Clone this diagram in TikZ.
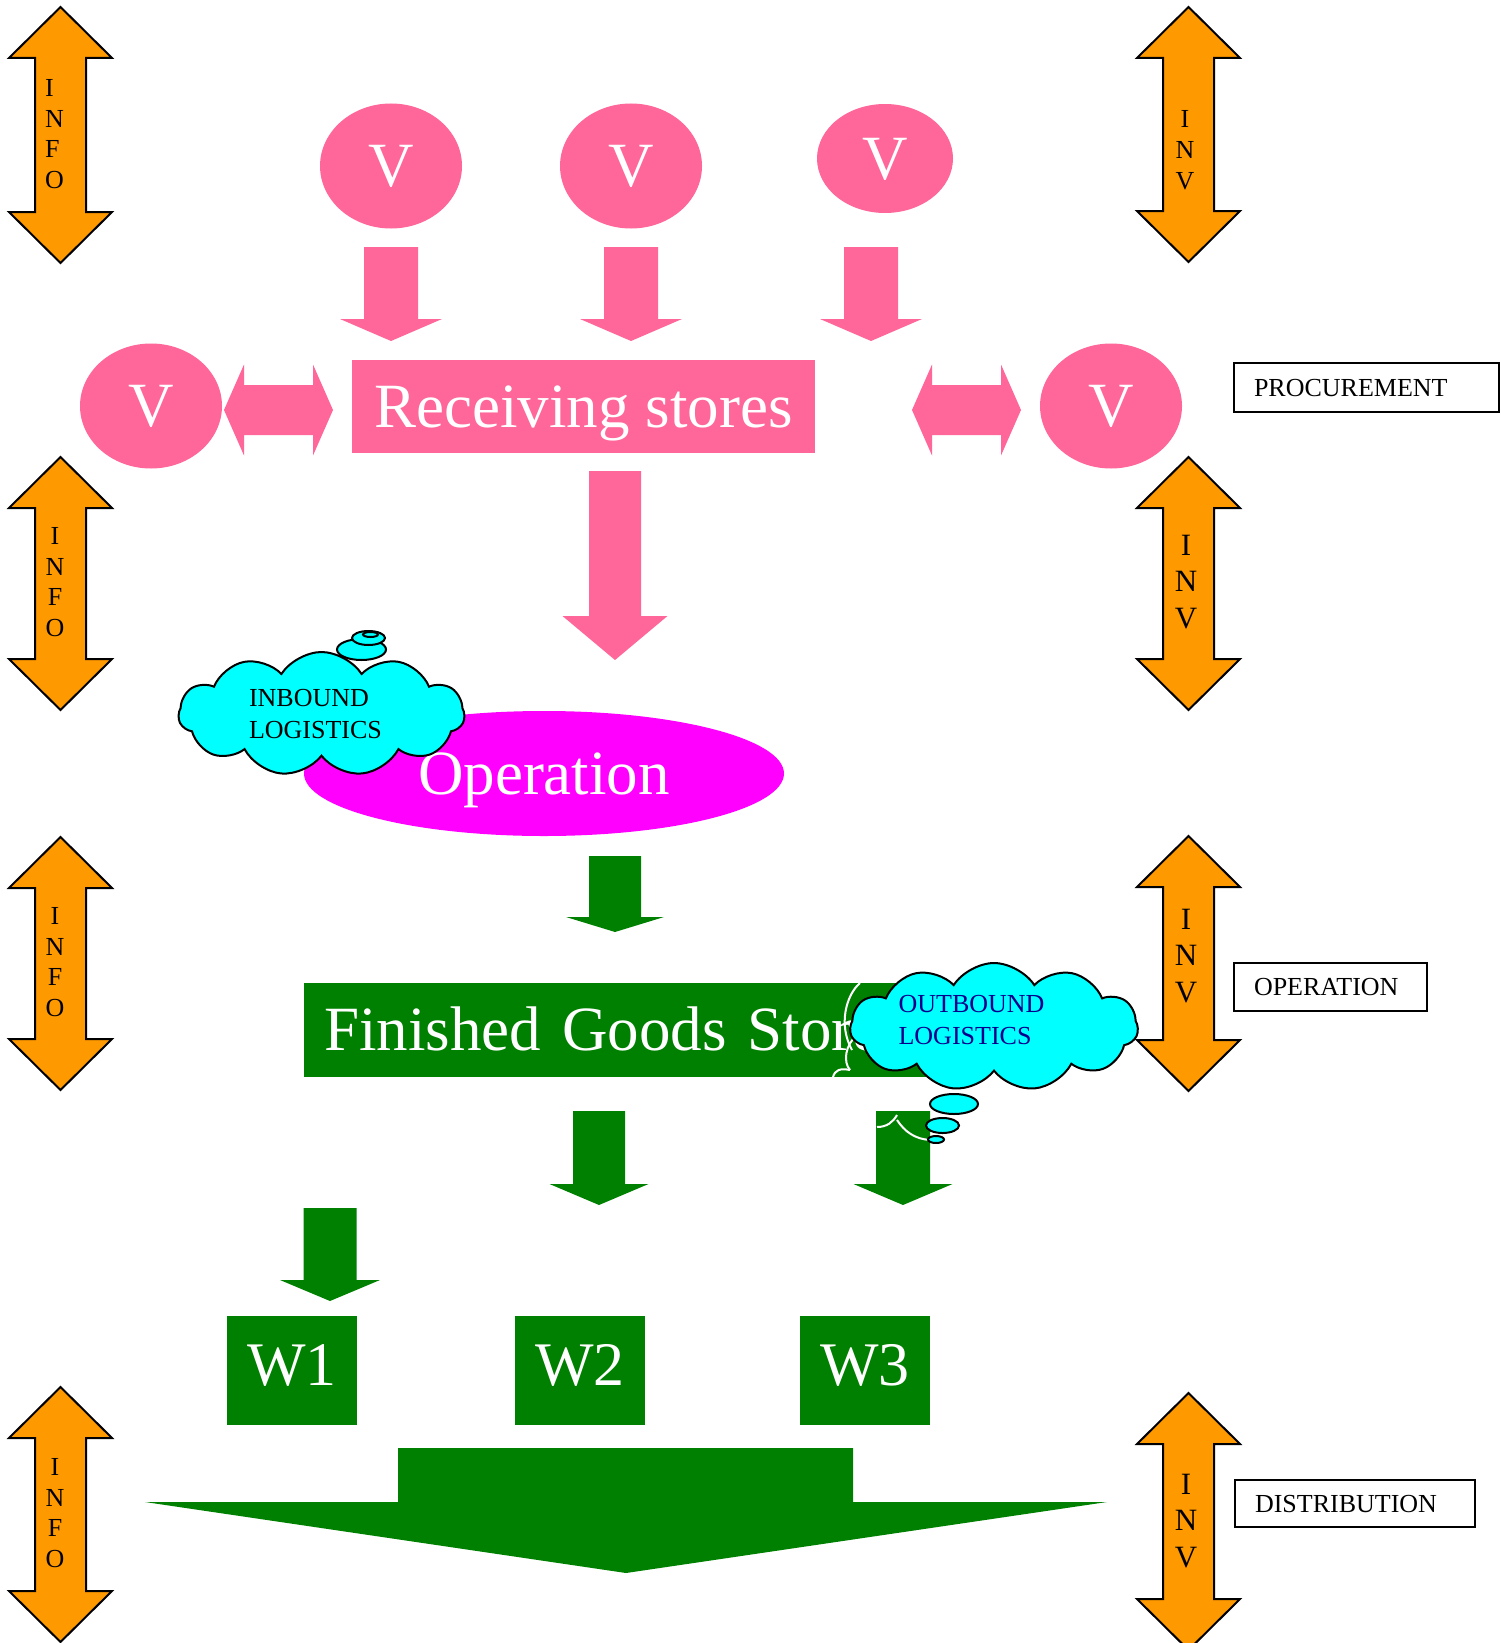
\documentclass[tikz,border=0pt]{standalone}
\usepackage{fontspec}
\setmainfont{Liberation Serif}
\usetikzlibrary{shapes.geometric,shapes.symbols}
\definecolor{pinkc}{RGB}{255,102,153}
\definecolor{orangec}{RGB}{255,153,0}
\definecolor{greenc}{RGB}{0,128,0}
\definecolor{magc}{RGB}{255,0,255}
\definecolor{cyanc}{RGB}{0,255,255}
\definecolor{navyc}{RGB}{0,0,140}

% vertical orange double arrow: cx, ytop, ybot
\newcommand\myVDouble[3]{%
  \filldraw[orangearrow] (#1,#2) -- (#1+51.5,#2+51) -- (#1+25.5,#2+51) -- (#1+25.5,#3-51) -- (#1+51.5,#3-51) -- (#1,#3) -- (#1-51.5,#3-51) -- (#1-25.5,#3-51) -- (#1-25.5,#2+51) -- (#1-51.5,#2+51) -- cycle;}
% horizontal pink double arrow: x1, x2, cy
\newcommand\myHDouble[3]{%
  \fill[pinkc] (#1,#3) -- (#1+20,#3-45.5) -- (#1+20,#3-25) -- (#2-20,#3-25) -- (#2-20,#3-45.5) -- (#2,#3) -- (#2-20,#3+45.5) -- (#2-20,#3+25) -- (#1+20,#3+25) -- (#1+20,#3+45.5) -- cycle;}
% block down arrow: colour, cx, top, shaft half, head base, head half, tip
\newcommand\myDown[7]{%
  \fill[#1] (#2-#4,#3) -- (#2+#4,#3) -- (#2+#4,#5) -- (#2+#6,#5) -- (#2,#7) -- (#2-#6,#5) -- (#2-#4,#5) -- cycle;}

\begin{document}
\begin{tikzpicture}[x=1pt,y=-1pt,
  orangearrow/.style={fill=orangec, draw=black, line width=2pt, line join=miter},
  big/.style={font=\fontsize{63}{63}\selectfont, text=white, text height=41.7pt, text depth=0pt},
  vnode/.style={ellipse, fill=pinkc, big, inner sep=0pt},
  lettersA/.style={font=\fontsize{26}{30.7}\selectfont, align=center, inner sep=0pt, text=black},
  lettersB/.style={font=\fontsize{31}{36.5}\selectfont, align=center, inner sep=0pt, text=black},
  labelbox/.style={draw=black, line width=2pt, font=\fontsize{26}{30}\selectfont, align=left, inner xsep=20pt, inner ysep=0pt, anchor=west, text height=17.2pt, text depth=0pt},
  wbox/.style={rectangle, fill=greenc, font=\fontsize{62}{62}\selectfont, text=white, text height=41pt, text depth=11pt, minimum width=130pt, minimum height=109pt, inner sep=0pt},
  cloudbox/.style={cloud, cloud puffs=11, cloud puff arc=115, draw=black, line width=2pt, fill=cyanc, inner sep=0pt},
  bubble/.style={fill=cyanc, draw=black, line width=2pt},
  cloudtext/.style={font=\fontsize{26}{32}\selectfont, align=left, inner sep=0pt},
  whitearc/.style={draw=white, line width=2pt}
]
\useasboundingbox (0,0) rectangle (1500,1643);

% ---------- orange INFO / INV arrows ----------
\myVDouble{60.5}{7}{263}
\myVDouble{60.5}{457}{710}
\myVDouble{60.5}{837}{1090}
\myVDouble{60.5}{1387}{1642}
\myVDouble{1188.5}{7}{262}
\myVDouble{1188.5}{457}{710}
\myVDouble{1188.5}{836}{1091}
\myVDouble{1188.5}{1393}{1650}

\node[lettersA, align=left, anchor=west] (info1) at (45,134) {I\\N\\F\\O};
\node[lettersA] (info2) at (55,582) {I\\N\\F\\O};
\node[lettersA] (info3) at (55,962) {I\\N\\F\\O};
\node[lettersA] (info4) at (55,1513) {I\\N\\F\\O};
\node[lettersA] (inv1) at (1185,150) {I\\N\\V};
\node[lettersB] (inv2) at (1186,582) {I\\N\\V};
\node[lettersB] (inv3) at (1186,956) {I\\N\\V};
\node[lettersB] (inv4) at (1186,1521) {I\\N\\V};

% ---------- section labels ----------
\node[labelbox, text width=225pt, minimum height=49pt] (proc) at (1233,387.5) {PROCUREMENT};
\node[labelbox, text width=153pt, minimum height=48pt] (oper) at (1233,987) {OPERATION};
\node[labelbox, text width=200pt, minimum height=47pt] (dist) at (1234,1503.5) {DISTRIBUTION};

% ---------- procurement ----------
\node[vnode, minimum width=142pt, minimum height=125pt] (v1) at (391,166) {V};
\node[vnode, minimum width=142pt, minimum height=125pt] (v2) at (631,166) {V};
\node[vnode, minimum width=136pt, minimum height=109pt] (v3) at (885,158.5) {V};
\node[vnode, minimum width=142pt, minimum height=125pt] (v4) at (151,406) {V};
\node[vnode, minimum width=142pt, minimum height=125pt] (v5) at (1111,406) {V};

\myDown{pinkc}{391}{247}{27}{319}{51}{341}
\myDown{pinkc}{631}{247}{27}{319}{51}{341}
\myDown{pinkc}{871}{247}{27}{319}{51}{341}

\node[rectangle, fill=pinkc, big, minimum width=463pt, minimum height=93pt, inner sep=0pt] (recv) at (583.5,406.5) {Receiving stores};

\myHDouble{224}{333}{410}
\myHDouble{912}{1021}{410}

\myDown{pinkc}{615}{471}{26}{616}{52.5}{660}

% ---------- operation ----------
\node[ellipse, fill=magc, big, minimum width=480pt, minimum height=125pt, inner sep=0pt] (op) at (544,773.5) {Operation};

\myDown{greenc}{615}{856}{26}{917}{49}{932}

\node[rectangle, fill=greenc, big, minimum width=626pt, minimum height=94pt, inner xsep=20pt, inner ysep=0pt, text width=586pt, align=left] (fgs) at (617,1030) {Finished Goods Store};

\myDown{greenc}{599}{1111}{26}{1184}{49.5}{1205}
\myDown{greenc}{903}{1111}{27}{1184}{49.5}{1205}
\myDown{greenc}{330}{1208}{26.5}{1280}{50}{1301}

% ---------- distribution ----------
\node[wbox] (w1) at (292,1370.5) {W1};
\node[wbox] (w2) at (580,1370.5) {W2};
\node[wbox] (w3) at (865,1370.5) {W3};

\fill[greenc] (398,1448) -- (853,1448) -- (853,1502) -- (1107,1502) -- (626,1573) -- (145,1502) -- (398,1502) -- cycle;

% white artefact arcs
\draw[whitearc] (860,983) .. controls (846,995) and (838,1025) .. (852,1050);
\draw[whitearc] (857,1035) .. controls (845,1045) and (843,1062) .. (850,1070);
\draw[whitearc] (833,1077) .. controls (835,1070) and (840,1068) .. (850,1070);
\draw[whitearc] (877,1127) .. controls (887,1127) and (893,1122) .. (897,1115);
\draw[whitearc] (897,1120) .. controls (905,1132) and (915,1139) .. (930,1140);

% ---------- clouds ----------
\node[cloudbox, minimum width=286pt, minimum height=124pt] (inbcloud) at (321.5,714) {};
\filldraw[bubble] (361.5,649.5) ellipse [x radius=24.5, y radius=10.5];
\filldraw[bubble] (368.5,638) ellipse [x radius=16.5, y radius=7];
\filldraw[bubble] (370.5,634.5) ellipse [x radius=7.5, y radius=2.5];
\node[cloudtext] (inbtext) at (315.5,714.5) {INBOUND\\LOGISTICS};

\node[cloudbox, minimum width=288pt, minimum height=128pt] (outcloud) at (994,1027) {};
\filldraw[bubble] (954,1104) ellipse [x radius=24, y radius=10];
\filldraw[bubble] (942.5,1125.5) ellipse [x radius=16.5, y radius=7.5];
\filldraw[bubble] (936,1139.5) ellipse [x radius=8, y radius=3.5];
\node[cloudtext, text=navyc] (outtext) at (971.5,1020) {OUTBOUND\\LOGISTICS};

\end{tikzpicture}
\end{document}
